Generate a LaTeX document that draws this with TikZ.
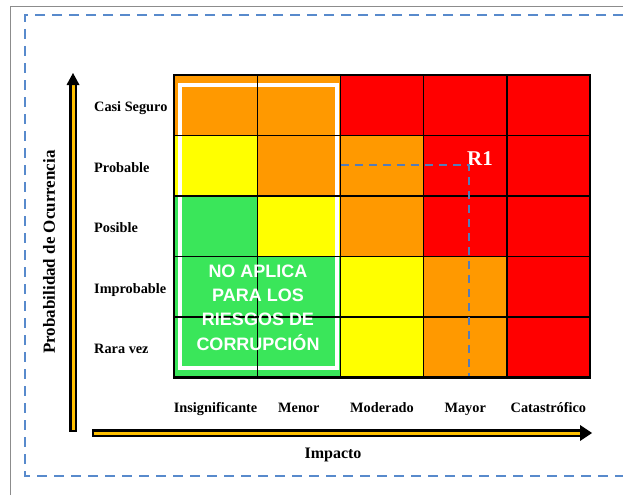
\documentclass[tikz,border=0pt]{standalone}
\usepackage{fontspec}
\setmainfont{Liberation Serif}
\newfontfamily\sansfam{Liberation Sans}
\definecolor{rO}{RGB}{255,153,0}
\definecolor{rR}{RGB}{255,0,0}
\definecolor{rY}{RGB}{255,255,0}
\definecolor{rG}{RGB}{58,230,90}
\definecolor{axisor}{RGB}{255,192,0}
\definecolor{framedash}{RGB}{88,138,204}
\definecolor{rdash}{RGB}{84,124,184}
\tikzset{
  lbl/.style={font=\bfseries\fontsize{14.3}{16}\selectfont, inner sep=0pt, anchor=base},
  ylbl/.style={lbl, anchor=base west},
  gridline/.style={black, line width=1.4pt},
}
\begin{document}
\begin{tikzpicture}[x=1pt,y=-1pt]
\useasboundingbox (0,0) rectangle (623,495);
\fill[white] (0,0) rectangle (623,495);
% outer frame
\draw[gray!90, line width=1.3pt] (10.5,495) -- (10.5,6.5) -- (623,6.5);
\draw[framedash, line width=2.3pt, dash pattern=on 10pt off 7pt] (623,15) -- (25,15) -- (25,476) -- (623,476);
% cells
\foreach \c [count=\n from 0,
             evaluate=\n as \r using {int(\n/5)},
             evaluate=\n as \i using {int(\n-5*int(\n/5))}] in
  {rO,rO,rR,rR,rR,
   rY,rO,rO,rR,rR,
   rG,rY,rO,rR,rR,
   rG,rG,rY,rO,rR,
   rG,rG,rY,rO,rR}{
  \fill[\c] (174+\i*83.2, 75+\r*60.5) rectangle ++(83.2,60.5);
}
% white box
\draw[white, line width=4pt] (179.5,85) rectangle (337,367.5);
% grid
\foreach \i in {1,...,4}{
  \draw[gridline] (174+\i*83.2,75) -- ++(0,302.5);
  \draw[gridline] (174,75+\i*60.5) -- ++(416,0);
}
\draw[black, line width=2.6pt] (174,75) rectangle (590,377.5);
% text in white box
\node[text=white, font=\sansfam\bfseries\fontsize{18}{24.2}\selectfont, align=center, inner sep=0pt] (na) at (258,307.5) {NO APLICA\\PARA LOS\\RIESGOS DE\\CORRUPCIÓN};
% R1 marker
\node[text=white, font=\bfseries\fontsize{21}{24}\selectfont, inner sep=0pt] (r1) at (480,158.5) {R1};
\coordinate (hstart) at (341,165);
\coordinate (rc) at (469,165);
\coordinate (vend) at (469,376);
\draw[rdash, line width=2.5pt, dash pattern=on 8pt off 6pt] (hstart) -- (rc) -- (vend);
% row labels
\node[ylbl] (l1) at (94,111.5) {Casi Seguro};
\node[ylbl] (l2) at (94,172) {Probable};
\node[ylbl] (l3) at (94,232.5) {Posible};
\node[ylbl] (l4) at (94,293) {Improbable};
\node[ylbl] (l5) at (94,353.5) {Rara vez};
% column labels
\node[lbl] (c1) at (215.6,412) {Insignificante};
\node[lbl] (c2) at (298.8,412) {Menor};
\node[lbl] (c3) at (382,412) {Moderado};
\node[lbl] (c4) at (465.2,412) {Mayor};
\node[lbl] (c5) at (548.4,412) {Catastrófico};
% axis titles
\node[font=\bfseries\fontsize{17}{18}\selectfont, inner sep=0pt, rotate=90] (yt) at (49,252) {Probabilidad de Ocurrencia};
\node[font=\bfseries\fontsize{16}{18}\selectfont, inner sep=0pt] (xt) at (333,455) {Impacto};
% Y axis arrow
\coordinate (ytip) at (73,73);
\fill[black] (69.3,432) rectangle (76.7,83);
\draw[axisor, line width=3pt] (73,429.5) -- (73,82);
\fill[black] (66.5,85) -- (ytip) -- (79.5,85) -- cycle;
% X axis arrow
\coordinate (xtip) at (592,433);
\fill[black] (92,429.3) rectangle (582,436.7);
\draw[axisor, line width=3pt] (93.5,433) -- (583,433);
\fill[black] (580,425) -- (xtip) -- (580,441) -- cycle;
\end{tikzpicture}
\end{document}
